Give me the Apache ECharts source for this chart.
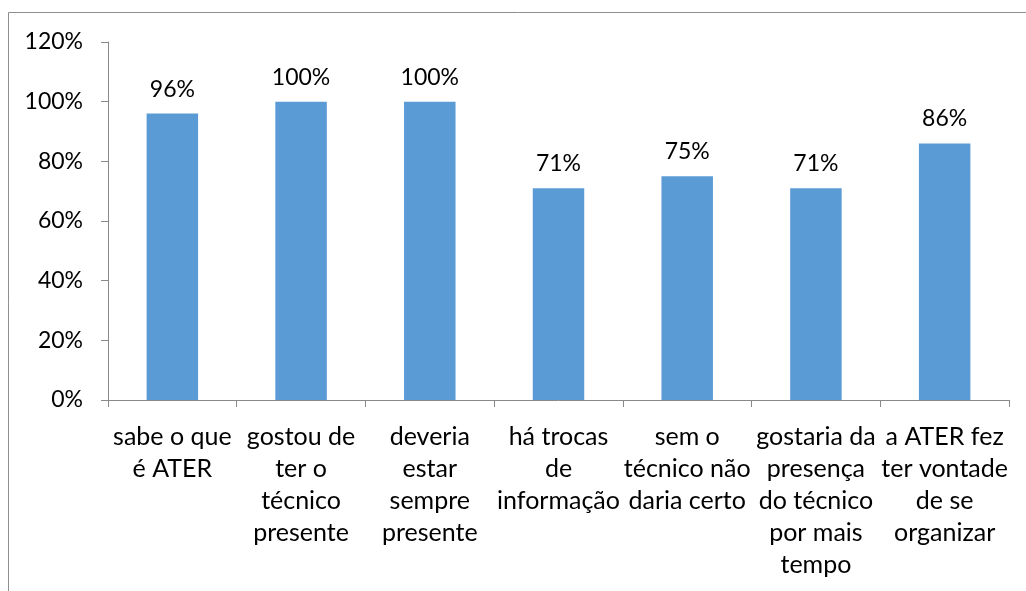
<!DOCTYPE html>
<html>
<head>
<meta charset="utf-8">
<script src="https://cdn.jsdelivr.net/npm/echarts@6/dist/echarts.min.js"></script>
<style>
html,body{margin:0;padding:0;background:#fff;}
#chart{width:1026px;height:591px;}
</style>
</head>
<body>
<div id="chart"></div>
<script>
var categories = [
  "sabe o que\né ATER",
  "gostou de\nter o\ntécnico\npresente",
  "deveria\nestar\nsempre\npresente",
  "há trocas\nde\ninformação",
  "sem o\ntécnico não\ndaria certo",
  "gostaria da\npresença\ndo técnico\npor mais\ntempo",
  "a ATER fez\nter vontade\nde se\norganizar"
];
var values = [96, 100, 100, 71, 75, 71, 86];
var yMin = 0, yMax = 120, yStep = 20;

var FONT = 'Lato';
var chart = echarts.init(document.getElementById('chart'));
chart.setOption({
  animation: false,
  backgroundColor: '#ffffff',
  graphic: [{
    type: 'rect',
    shape: {x: 8.5, y: 12.5, width: 1200, height: 800},
    style: {fill: 'none', stroke: '#8e8e8e', lineWidth: 1},
    silent: true
  }],
  grid: {left: 108, right: 17, top: 42, bottom: 191},
  xAxis: {
    type: 'category',
    data: categories,
    axisLine: {lineStyle: {color: '#898989', width: 1}},
    axisTick: {show: true, length: 7, lineStyle: {color: '#898989'}},
    axisLabel: {
      interval: 0,
      margin: 21,
      color: '#000',
      fontFamily: FONT,
      fontSize: 25,
      lineHeight: 32,
      align: 'center'
    }
  },
  yAxis: {
    type: 'value',
    min: yMin, max: yMax, interval: yStep,
    axisLine: {show: true, lineStyle: {color: '#898989', width: 1}},
    axisTick: {show: true, length: 7, lineStyle: {color: '#898989'}},
    splitLine: {show: false},
    axisLabel: {
      margin: 25,
      color: '#000',
      fontFamily: FONT,
      fontSize: 23,
      formatter: function (v) { return v + '%'; }
    }
  },
  series: [{
    type: 'bar',
    data: values,
    barWidth: '40%',
    itemStyle: {color: '#5B9BD5'},
    label: {
      show: true,
      position: 'top',
      distance: 13,
      color: '#000',
      fontFamily: FONT,
      fontSize: 23,
      formatter: function (p) { return p.value + '%'; }
    }
  }]
});
</script>
</body>
</html>
